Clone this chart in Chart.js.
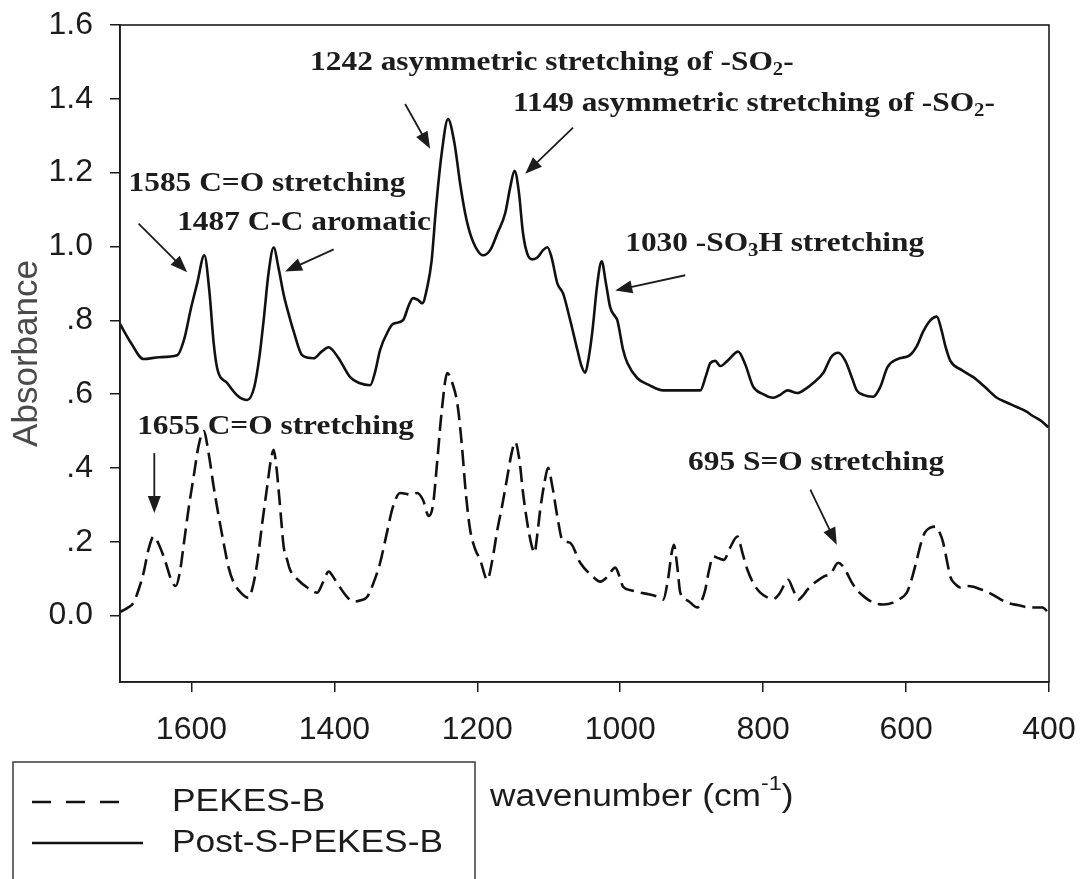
<!DOCTYPE html>
<html>
<head>
<meta charset="utf-8">
<script src="https://cdn.jsdelivr.net/npm/chart.js@4/dist/chart.umd.min.js"></script>
<style>
html,body{margin:0;padding:0;background:#fff;}
#wrap{width:1082px;height:879px;position:relative;}
</style>
</head>
<body>
<div id="wrap"><canvas id="c" width="1082" height="879"></canvas></div>
<script>
// ---------- DATA ----------
const seriesNames = ['PEKES-B', 'Post-S-PEKES-B'];

// PEKES-B (dashed)
const pekesWavenumber = [1700,1690,1681,1674,1667,1660,1653,1645,1636,1628,1622,1616,1611,1604,1597,1590,1583,1576,1569,1562,1555,1548,1541,1530,1520,1514,1508,1501,1494,1489,1485,1481,1478,1474,1471,1466,1462,1450,1438,1424,1416,1408,1400,1392,1382,1373,1362,1354,1345,1336,1327,1318,1308,1300,1294,1284,1276,1268,1262,1256,1250,1242,1235,1228,1222,1216,1210,1203,1196,1186,1179,1172,1165,1158,1152,1147,1141,1136,1130,1124,1120,1116,1112,1106,1101,1095,1088,1081,1070,1056,1038,1028,1018,1007,1000,996,984,972,960,948,940,933,928,925,920,916,905,892,886,881,876,870,862,855,846,836,829,822,813,804,795,786,777,770,765,758,751,744,738,727,716,705,695,689,683,676,669,658,646,632,618,609,599,592,585,580,574,566,559,553,548,543,538,531,524,515,506,497,487,473,459,443,427,415,409,401];
const pekesAbsorbance = [0.01,0.02,0.035,0.07,0.116,0.18,0.214,0.19,0.143,0.095,0.08,0.12,0.19,0.29,0.376,0.46,0.50,0.44,0.35,0.27,0.197,0.13,0.09,0.06,0.048,0.08,0.143,0.25,0.35,0.42,0.449,0.40,0.34,0.25,0.187,0.15,0.124,0.095,0.076,0.062,0.09,0.119,0.10,0.076,0.05,0.038,0.042,0.051,0.09,0.143,0.22,0.295,0.332,0.33,0.327,0.332,0.313,0.27,0.30,0.42,0.55,0.657,0.63,0.575,0.47,0.33,0.232,0.18,0.151,0.097,0.15,0.232,0.30,0.376,0.44,0.47,0.42,0.332,0.25,0.19,0.17,0.22,0.286,0.36,0.40,0.35,0.268,0.205,0.197,0.143,0.105,0.092,0.105,0.13,0.10,0.078,0.068,0.062,0.058,0.051,0.043,0.10,0.17,0.192,0.13,0.062,0.04,0.022,0.04,0.07,0.12,0.16,0.155,0.151,0.185,0.214,0.17,0.124,0.085,0.062,0.05,0.045,0.06,0.085,0.097,0.07,0.043,0.055,0.07,0.09,0.105,0.115,0.143,0.135,0.116,0.09,0.07,0.05,0.035,0.03,0.035,0.045,0.062,0.10,0.151,0.19,0.224,0.238,0.241,0.225,0.197,0.15,0.105,0.085,0.076,0.08,0.078,0.072,0.065,0.05,0.035,0.028,0.022,0.022,0.022,0.008];

// Post-S-PEKES-B (solid)
const postWavenumber = [1700,1685,1667,1645,1620,1610,1601,1592,1582,1575,1569,1564,1550,1535,1522,1512,1505,1499,1492,1485,1478,1471,1463,1457,1445,1429,1418,1408,1395,1378,1365,1350,1343,1336,1325,1318,1304,1296,1290,1283,1277,1270,1264,1258,1250,1241,1232,1224,1217,1210,1200,1192,1182,1172,1161,1154,1148,1142,1136,1130,1123,1116,1108,1102,1096,1088,1080,1070,1060,1054,1049,1044,1039,1032,1026,1020,1014,1007,1004,996,990,976,960,940,910,888,880,874,867,860,850,835,825,814,800,786,776,766,752,740,730,715,705,695,685,675,669,660,646,636,626,612,595,585,576,566,557,550,545,538,522,506,490,473,460,445,432,422,410,401];
const postAbsorbance = [0.79,0.74,0.695,0.70,0.705,0.75,0.83,0.90,0.976,0.88,0.74,0.67,0.63,0.595,0.584,0.62,0.70,0.80,0.93,0.997,0.94,0.87,0.81,0.77,0.705,0.697,0.715,0.727,0.70,0.646,0.63,0.624,0.66,0.72,0.77,0.79,0.80,0.84,0.86,0.855,0.846,0.89,0.96,1.10,1.25,1.345,1.28,1.17,1.09,1.035,0.99,0.976,0.99,1.035,1.09,1.16,1.205,1.15,1.035,0.98,0.965,0.97,0.99,0.998,0.97,0.90,0.873,0.80,0.72,0.675,0.658,0.70,0.77,0.90,0.96,0.90,0.835,0.81,0.80,0.72,0.684,0.643,0.625,0.61,0.61,0.61,0.65,0.684,0.69,0.676,0.69,0.715,0.68,0.62,0.60,0.59,0.598,0.61,0.603,0.615,0.63,0.66,0.70,0.712,0.69,0.64,0.61,0.598,0.593,0.62,0.673,0.695,0.705,0.73,0.77,0.80,0.81,0.77,0.73,0.69,0.665,0.646,0.62,0.59,0.578,0.565,0.553,0.54,0.526,0.51];

// Axis ticks
const xTickValues = [1600, 1400, 1200, 1000, 800, 600, 400];
const xTickLabels = ['1600', '1400', '1200', '1000', '800', '600', '400'];
const yTickValues = [0, 0.2, 0.4, 0.6, 0.8, 1.0, 1.2, 1.4, 1.6];
const yTickLabels = ['0.0', '.2', '.4', '.6', '.8', '1.0', '1.2', '1.4', '1.6'];
const xTitle = ['wavenumber (cm', '-1', ')'];
const yTitle = 'Absorbance';

// Annotations (text anchor in data units: wavenumber, absorbance)
const annotationTexts = [
  '1242 asymmetric stretching of -SO_{2}-',
  '1149 asymmetric stretching of -SO_{2}-',
  '1585 C=O stretching',
  '1487 C-C aromatic',
  '1030 -SO_{3}H stretching',
  '1655 C=O stretching',
  '695 S=O stretching'
];
const annotationWavenumber = [1434, 1150, 1688, 1620, 993, 1676, 905];
const annotationAbsorbance = [1.497, 1.386, 1.170, 1.065, 1.008, 0.511, 0.414];
// Arrows (data units)
const arrowFromWavenumber = [1674, 1401, 1301, 1066, 909, 1652, 734];
const arrowFromAbsorbance = [1.062, 0.992, 1.386, 1.322, 0.922, 0.440, 0.341];
const arrowToWavenumber   = [1606, 1469, 1266, 1133, 1007, 1652, 697];
const arrowToAbsorbance   = [0.930, 0.932, 1.265, 1.197, 0.881, 0.278, 0.192];

// ---------- helpers ----------
function toPoints(xs, ys) { return xs.map((x, i) => ({ x: x, y: ys[i] })); }

function drawRich(ctx, str, x, y, size, family, weight, sx) {
  const parts = [];
  const re = /(_|\^)\{([^}]*)\}/g;
  let last = 0, m;
  while ((m = re.exec(str))) {
    if (m.index > last) parts.push({ t: str.slice(last, m.index), k: '' });
    parts.push({ t: m[2], k: m[1] });
    last = re.lastIndex;
  }
  if (last < str.length) parts.push({ t: str.slice(last), k: '' });
  ctx.save();
  ctx.translate(x, y);
  ctx.scale(sx, 1);
  ctx.textBaseline = 'middle';
  ctx.textAlign = 'left';
  let cx = 0;
  for (const p of parts) {
    const fs = p.k ? size * 0.66 : size;
    ctx.font = weight + ' ' + fs + 'px ' + family;
    const dy = p.k === '_' ? size * 0.26 : (p.k === '^' ? -size * 0.42 : 0);
    ctx.fillText(p.t, cx, dy);
    cx += ctx.measureText(p.t).width;
  }
  ctx.restore();
}

function drawArrow(ctx, x1, y1, x2, y2) {
  const ang = Math.atan2(y2 - y1, x2 - x1);
  const L = 17, W = 6.5;
  const c = Math.cos(ang), s = Math.sin(ang);
  ctx.beginPath();
  ctx.moveTo(x1, y1);
  ctx.lineTo(x2 - L * 0.8 * c, y2 - L * 0.8 * s);
  ctx.stroke();
  ctx.beginPath();
  ctx.moveTo(x2, y2);
  ctx.lineTo(x2 - L * c + W * s, y2 - L * s - W * c);
  ctx.lineTo(x2 - L * c - W * s, y2 - L * s + W * c);
  ctx.closePath();
  ctx.fill();
}

const SANS = '"Liberation Sans", Arial, sans-serif';
const SERIF = '"Liberation Serif", "Times New Roman", serif';
const INK = '#1c1c1c';

const decoPlugin = {
  id: 'deco',
  afterDraw(chart) {
    const { ctx, chartArea: a, scales } = chart;
    const xs = scales.x, ys = scales.y;
    ctx.save();
    // frame
    ctx.strokeStyle = INK;
    ctx.lineWidth = 1.6;
    ctx.strokeRect(a.left, a.top, a.right - a.left, a.bottom - a.top);

    // annotations
    ctx.fillStyle = INK;
    for (let i = 0; i < annotationTexts.length; i++) {
      drawRich(ctx, annotationTexts[i],
        xs.getPixelForValue(annotationWavenumber[i]),
        ys.getPixelForValue(annotationAbsorbance[i]),
        28, SERIF, 'bold', 1.12);
    }
    ctx.strokeStyle = INK;
    ctx.lineWidth = 1.8;
    for (let i = 0; i < arrowFromWavenumber.length; i++) {
      drawArrow(ctx,
        xs.getPixelForValue(arrowFromWavenumber[i]), ys.getPixelForValue(arrowFromAbsorbance[i]),
        xs.getPixelForValue(arrowToWavenumber[i]), ys.getPixelForValue(arrowToAbsorbance[i]));
    }

    // x-axis title with superscript
    ctx.fillStyle = INK;
    drawRich(ctx, xTitle[0] + '^{' + xTitle[1] + '}' + xTitle[2], 490, 797, 31, SANS, 'normal', 1.14);

    // legend box
    const lx = 13, ly = 762, lw = 462, lh = 140;
    ctx.strokeStyle = '#3a3a3a';
    ctx.lineWidth = 1.5;
    ctx.strokeRect(lx, ly, lw, lh);
    const rowsY = [802, 843];
    const sampleEnd = [127, 143];
    chart.data.datasets.forEach((ds, i) => {
      ctx.save();
      ctx.strokeStyle = ds.borderColor;
      ctx.lineWidth = ds.borderWidth;
      ctx.setLineDash(ds.borderDash ? [19, 15] : []);
      ctx.beginPath();
      ctx.moveTo(32, rowsY[i]);
      ctx.lineTo(sampleEnd[i], rowsY[i]);
      ctx.stroke();
      ctx.restore();
      ctx.fillStyle = INK;
      drawRich(ctx, ds.label, 172, rowsY[i], 31, SANS, 'normal', 1.14);
    });
    ctx.restore();
  }
};

const cfg = {
  type: 'line',
  data: {
    datasets: [
      {
        label: seriesNames[0],
        data: toPoints(pekesWavenumber, pekesAbsorbance),
        borderColor: '#111',
        borderWidth: 2.6,
        borderDash: [16, 7],
        pointRadius: 0,
        fill: false,
        cubicInterpolationMode: 'monotone'
      },
      {
        label: seriesNames[1],
        data: toPoints(postWavenumber, postAbsorbance),
        borderColor: '#111',
        borderWidth: 2.6,
        pointRadius: 0,
        fill: false,
        cubicInterpolationMode: 'monotone'
      }
    ]
  },
  options: {
    responsive: false,
    animation: false,
    devicePixelRatio: 1,
    layout: { padding: { left: 0, top: 25, right: 33, bottom: 0 } },
    plugins: { legend: { display: false }, tooltip: { enabled: false }, title: { display: false } },
    scales: {
      x: {
        type: 'linear',
        reverse: true,
        min: 400,
        max: 1700,
        afterBuildTicks: (s) => { s.ticks = xTickValues.map(v => ({ value: v })); },
        afterFit: (s) => { s.height = 197; s.paddingLeft = 0; s.paddingRight = 0; },
        grid: { display: true, drawOnChartArea: false, drawTicks: true, tickLength: 10, color: INK, lineWidth: 1.5 },
        border: { display: true, color: INK, width: 1.6 },
        ticks: {
          autoSkip: false,
          maxRotation: 0,
          padding: 19,
          color: INK,
          font: { family: SANS, size: 32 },
          callback: (v) => { const i = xTickValues.indexOf(v); return i >= 0 ? xTickLabels[i] : ''; }
        }
      },
      y: {
        type: 'linear',
        min: -0.18,
        max: 1.6,
        afterBuildTicks: (s) => { s.ticks = yTickValues.map(v => ({ value: v })); },
        afterFit: (s) => { s.width = 120; s.paddingTop = 0; s.paddingBottom = 0; },
        grid: { display: true, drawOnChartArea: false, drawTicks: true, tickLength: 10, color: INK, lineWidth: 1.5 },
        border: { display: true, color: INK, width: 1.6 },
        title: {
          display: true,
          text: yTitle,
          color: '#4a4a4a',
          font: { family: SANS, size: 35 },
          padding: { top: 6, bottom: 0 }
        },
        ticks: {
          autoSkip: false,
          padding: 17,
          color: INK,
          font: { family: SANS, size: 32 },
          callback: (v) => { const i = yTickValues.findIndex(t => Math.abs(t - v) < 1e-9); return i >= 0 ? yTickLabels[i] : ''; }
        }
      }
    }
  },
  plugins: [decoPlugin]
};

new Chart(document.getElementById('c').getContext('2d'), cfg);
</script>
</body>
</html>
